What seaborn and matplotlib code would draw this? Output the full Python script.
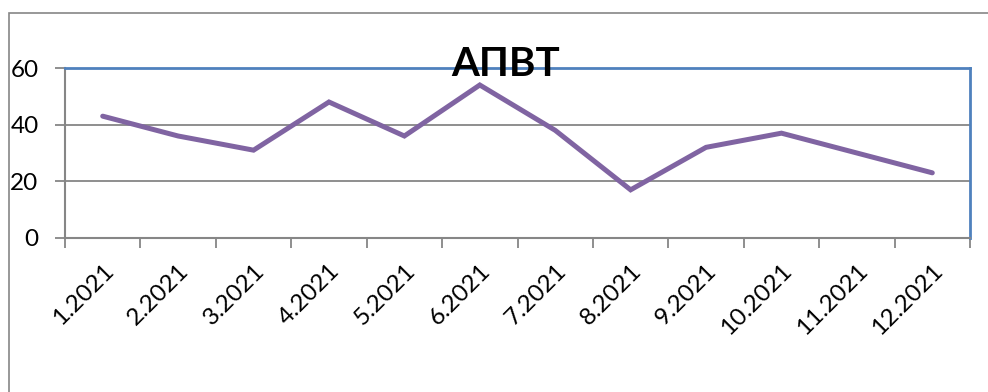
import matplotlib
matplotlib.use("Agg")
import matplotlib.pyplot as plt
from matplotlib.patches import Rectangle
from matplotlib.ticker import FixedLocator
import seaborn as sns
import pandas as pd

months = ["1.2021", "2.2021", "3.2021", "4.2021", "5.2021", "6.2021",
          "7.2021", "8.2021", "9.2021", "10.2021", "11.2021", "12.2021"]
values = [43, 36, 31, 48, 36, 54, 38, 17, 32, 37, 30, 23]
y_ticks = [0, 20, 40, 60]
title = "АПВТ"

sns.set_theme(style="white")
plt.rcParams["font.family"] = ["Lato", "DejaVu Sans"]

W, H = 988, 392
fig = plt.figure(figsize=(W / 100, H / 100), dpi=100)
fig.patch.set_facecolor("white")

# outer chart frame
fig.add_artist(Rectangle((9 / W, -0.1), 1.2, (H - 13) / H + 0.1,
                         transform=fig.transFigure, fill=False,
                         edgecolor="#868686", linewidth=1.2))

ax = fig.add_axes([65 / W, (H - 238) / H, (970 - 65) / W, (238 - 68) / H])

df = pd.DataFrame({"month": months, "value": values})
df["pos"] = range(len(months))
sns.lineplot(data=df, x="pos", y="value", ax=ax, sort=False,
             color="#8064a2", linewidth=3.6, solid_capstyle="round",
             solid_joinstyle="miter", zorder=3)

ax.set_xlim(-0.5, len(months) - 0.5)
ax.set_ylim(0, 60)
ax.set_xlabel("")
ax.set_ylabel("")

grid_c = "#868686"
ax.set_yticks(y_ticks)
for v in y_ticks[1:-1]:
    ax.axhline(v, color=grid_c, linewidth=1.3, zorder=1)

ax.set_xticks(range(len(months)))
ax.set_xticklabels(months, rotation=45, ha="right", rotation_mode="anchor",
                   fontsize=17.5, color="black")
ax.xaxis.set_minor_locator(FixedLocator([i - 0.5 for i in range(len(months) + 1)]))
ax.tick_params(axis="x", which="major", length=0, pad=16)
ax.tick_params(axis="x", which="minor", length=7, width=1.3, color=grid_c,
               direction="out", bottom=True)
ax.tick_params(axis="y", length=7, width=1.3, color=grid_c, direction="out",
               left=True, labelsize=17.5, labelcolor="black", pad=12)

for side in ("left", "bottom"):
    ax.spines[side].set_color(grid_c)
    ax.spines[side].set_linewidth(1.5)
for side in ("top", "right"):
    ax.spines[side].set_color("#4f81bd")
    ax.spines[side].set_linewidth(2.0)
for s in ax.spines.values():
    s.set_visible(True)

fig.text(506 / W, 1 - 64 / H, title, ha="center", va="center",
         fontsize=29, fontweight="bold", color="black", zorder=10)

fig.savefig("out.png", dpi=100, facecolor="white")
